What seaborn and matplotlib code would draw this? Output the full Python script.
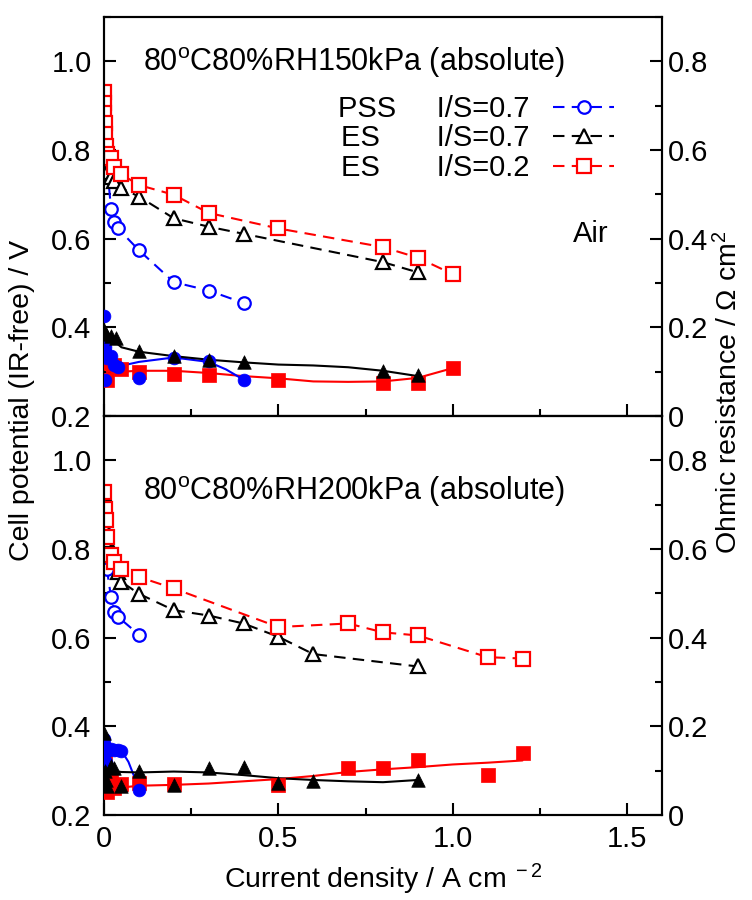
import numpy as np
import pandas as pd
import matplotlib
matplotlib.use("Agg")
import matplotlib.pyplot as plt
import seaborn as sns
from matplotlib.ticker import MultipleLocator, FuncFormatter

# ---------------- data: 80C 80%RH 150 kPa (top panel) ----------------
# IR-free cell potential (V), open markers, dashed lines
t_pss_x = [0.002, 0.005, 0.01, 0.02, 0.03, 0.04, 0.1, 0.2, 0.3, 0.4]
t_pss_v = [0.80, 0.78, 0.755, 0.668, 0.638, 0.623, 0.574, 0.502, 0.483, 0.455]
t_es7_x = [0.002, 0.005, 0.01, 0.02, 0.03, 0.05, 0.1, 0.2, 0.3, 0.4, 0.8, 0.9]
t_es7_v = [0.80, 0.77, 0.75, 0.74, 0.73, 0.714, 0.695, 0.646, 0.627, 0.611, 0.547, 0.524]
t_es2_x = [0.0, 0.0005, 0.001, 0.002, 0.003, 0.005, 0.01, 0.02, 0.03, 0.05, 0.1, 0.2, 0.3, 0.5, 0.8, 0.9, 1.0]
t_es2_v = [0.93, 0.907, 0.884, 0.861, 0.835, 0.808, 0.79, 0.783, 0.761, 0.745, 0.721, 0.699, 0.658, 0.623, 0.581, 0.557, 0.520]
# ohmic resistance (ohm cm2), filled markers
t_pss_rx = [0.0, 0.001, 0.002, 0.003, 0.005, 0.01, 0.02, 0.03, 0.04, 0.1, 0.2, 0.3, 0.4]
t_pss_r = [0.225, 0.17, 0.155, 0.082, 0.14, 0.13, 0.135, 0.116, 0.11, 0.086, 0.131, 0.124, 0.082]
t_es7_rx = [0.0, 0.005, 0.02, 0.035, 0.1, 0.2, 0.3, 0.4, 0.8, 0.9]
t_es7_r = [0.195, 0.185, 0.18, 0.177, 0.146, 0.135, 0.127, 0.121, 0.101, 0.093]
t_es2_rx = [0.0, 0.005, 0.01, 0.03, 0.05, 0.1, 0.2, 0.3, 0.5, 0.8, 0.9, 1.0]
t_es2_r = [0.135, 0.12, 0.082, 0.116, 0.105, 0.10, 0.095, 0.092, 0.082, 0.075, 0.075, 0.108]
# fitted resistance curves (solid lines)
t_pss_fx = [0.0, 0.01, 0.03, 0.06, 0.1, 0.2, 0.3, 0.35, 0.4]
t_pss_f = [0.16, 0.13, 0.115, 0.115, 0.122, 0.132, 0.122, 0.105, 0.082]
t_es7_fx = [0.0, 0.02, 0.05, 0.1, 0.2, 0.3, 0.4, 0.5, 0.6, 0.7, 0.8, 0.9]
t_es7_f = [0.20, 0.175, 0.155, 0.145, 0.135, 0.127, 0.121, 0.116, 0.114, 0.11, 0.102, 0.09]
t_es2_fx = [0.0, 0.01, 0.05, 0.1, 0.2, 0.3, 0.4, 0.5, 0.6, 0.7, 0.8, 0.9, 1.0]
t_es2_f = [0.13, 0.095, 0.10, 0.102, 0.102, 0.097, 0.09, 0.085, 0.078, 0.077, 0.078, 0.086, 0.108]

# ---------------- data: 80C 80%RH 200 kPa (bottom panel) ----------------
b_pss_x = [0.0, 0.001, 0.002, 0.003, 0.005, 0.008, 0.02, 0.03, 0.04, 0.1]
b_pss_v = [0.883, 0.838, 0.816, 0.793, 0.775, 0.756, 0.692, 0.658, 0.647, 0.607]
b_es7_x = [0.0, 0.002, 0.005, 0.01, 0.02, 0.04, 0.05, 0.1, 0.2, 0.3, 0.4, 0.5, 0.6, 0.9]
b_es7_v = [0.925, 0.872, 0.842, 0.82, 0.793, 0.748, 0.726, 0.699, 0.662, 0.65, 0.632, 0.602, 0.563, 0.535]
b_es2_x = [0.0, 0.002, 0.005, 0.01, 0.02, 0.03, 0.05, 0.1, 0.2, 0.5, 0.7, 0.8, 0.9, 1.1, 1.2]
b_es2_v = [0.929, 0.89, 0.865, 0.827, 0.786, 0.771, 0.756, 0.737, 0.711, 0.624, 0.632, 0.612, 0.605, 0.556, 0.553]
b_pss_rx = [0.0, 0.002, 0.005, 0.01, 0.02, 0.03, 0.04, 0.05, 0.1]
b_pss_r = [0.172, 0.155, 0.12, 0.145, 0.15, 0.147, 0.146, 0.145, 0.056]
b_es7_rx = [0.0, 0.002, 0.005, 0.01, 0.02, 0.03, 0.05, 0.1, 0.2, 0.3, 0.4, 0.5, 0.6, 0.9]
b_es7_r = [0.185, 0.10, 0.08, 0.065, 0.11, 0.105, 0.065, 0.10, 0.068, 0.105, 0.108, 0.072, 0.077, 0.08]
b_es2_rx = [0.0, 0.002, 0.005, 0.01, 0.02, 0.03, 0.05, 0.1, 0.2, 0.5, 0.7, 0.8, 0.9, 1.1, 1.2]
b_es2_r = [0.142, 0.12, 0.056, 0.052, 0.078, 0.06, 0.07, 0.072, 0.07, 0.067, 0.105, 0.105, 0.124, 0.09, 0.139]
b_pss_fx = [0.0, 0.01, 0.03, 0.05, 0.07, 0.09, 0.1]
b_pss_f = [0.17, 0.15, 0.147, 0.145, 0.12, 0.08, 0.056]
b_es7_fx = [0.0, 0.02, 0.05, 0.1, 0.2, 0.3, 0.4, 0.5, 0.6, 0.7, 0.8, 0.9]
b_es7_f = [0.13, 0.10, 0.097, 0.096, 0.098, 0.096, 0.09, 0.083, 0.079, 0.076, 0.074, 0.079]
b_es2_fx = [0.0, 0.01, 0.05, 0.1, 0.2, 0.3, 0.4, 0.5, 0.6, 0.7, 0.8, 0.9, 1.0, 1.1, 1.2]
b_es2_f = [0.13, 0.06, 0.062, 0.066, 0.068, 0.071, 0.076, 0.081, 0.088, 0.097, 0.103, 0.108, 0.114, 0.118, 0.123]

labels = ["PSS     I/S=0.7", "ES       I/S=0.7", "ES       I/S=0.2"]
titles = ["80$^{\\rm o}$C80%RH150kPa (absolute)", "80$^{\\rm o}$C80%RH200kPa (absolute)"]

# ---------------- style ----------------
sns.set_theme(style="ticks")
plt.rcParams["font.family"] = ["Liberation Sans", "DejaVu Sans"]
plt.rcParams["mathtext.fontset"] = "custom"
plt.rcParams["mathtext.rm"] = "Liberation Sans"
plt.rcParams["mathtext.it"] = "Liberation Sans:italic"
plt.rcParams["mathtext.bf"] = "Liberation Sans:bold"
plt.rcParams["axes.linewidth"] = 1.5
for key in ["text.color", "axes.labelcolor", "xtick.color", "ytick.color", "axes.edgecolor"]:
    plt.rcParams[key] = "black"

BLUE, BLACK, RED = "#0000FF", "#000000", "#FF0000"
colors = [BLUE, BLACK, RED]
markers = ["o", "^", "s"]
msizes = [9, 10, 10]
TICK_FS = 21
DASH = (0, (5.5, 3.5))

fig = plt.figure(figsize=(7.52, 9.0), dpi=100)
gs = fig.add_gridspec(2, 1, left=104/752, right=662/752, bottom=1-815/900, top=1-17/900, hspace=0)
ax_top = fig.add_subplot(gs[0])
ax_bot = fig.add_subplot(gs[1], sharex=ax_top)

panels = [
    (ax_top,
     [(t_pss_x, t_pss_v), (t_es7_x, t_es7_v), (t_es2_x, t_es2_v)],
     [(t_pss_rx, t_pss_r), (t_es7_rx, t_es7_r), (t_es2_rx, t_es2_r)],
     [(t_pss_fx, t_pss_f), (t_es7_fx, t_es7_f), (t_es2_fx, t_es2_f)]),
    (ax_bot,
     [(b_pss_x, b_pss_v), (b_es7_x, b_es7_v), (b_es2_x, b_es2_v)],
     [(b_pss_rx, b_pss_r), (b_es7_rx, b_es7_r), (b_es2_rx, b_es2_r)],
     [(b_pss_fx, b_pss_f), (b_es7_fx, b_es7_f), (b_es2_fx, b_es2_f)]),
]

fmt_x = FuncFormatter(lambda v, p: "0" if abs(v) < 1e-9 else f"{v:.1f}")
fmt_r = FuncFormatter(lambda v, p: "0" if abs(v) < 1e-9 else f"{v:.1f}")

for i, (ax, opens, filled, fits) in enumerate(panels):
    ax2 = ax.twinx()
    for k in range(3):
        xo, yo = opens[k]
        sns.lineplot(x=xo, y=yo, ax=ax, color=colors[k], linestyle=DASH, linewidth=1.5,
                     marker=markers[k], markersize=msizes[k], markerfacecolor="white",
                     markeredgecolor=colors[k], markeredgewidth=1.6,
                     estimator=None, sort=False, label=labels[k] if i == 0 else None, legend=False)
    for k in [2, 0, 1]:
        xf, yf = fits[k]
        sns.lineplot(x=xf, y=yf, ax=ax2, color=colors[k], linewidth=1.5,
                     estimator=None, sort=False, legend=False)
        xr, yr = filled[k]
        sns.scatterplot(x=xr, y=yr, ax=ax2, color=colors[k], marker=markers[k],
                        s=95 if k else 85, edgecolor=colors[k], linewidth=0.5, legend=False, zorder=3)

    ax.set_xlim(0, 1.6)
    ax.set_ylim(0.2, 1.1)
    ax2.set_ylim(0.0, 0.9)
    ax.yaxis.set_major_locator(MultipleLocator(0.2))
    ax.yaxis.set_minor_locator(MultipleLocator(0.1))
    ax2.yaxis.set_major_locator(MultipleLocator(0.2))
    ax2.yaxis.set_minor_locator(MultipleLocator(0.1))
    ax2.yaxis.set_major_formatter(fmt_r)
    ax.xaxis.set_major_locator(MultipleLocator(0.5))
    ax.xaxis.set_minor_locator(MultipleLocator(0.25))
    ax.xaxis.set_major_formatter(fmt_x)
    ax.yaxis.set_major_formatter(FuncFormatter(lambda v, p: f"{v:.1f}"))
    for a in (ax, ax2):
        a.tick_params(which="major", direction="in", length=8.5, width=1.5, labelsize=TICK_FS, colors="black")
        a.tick_params(which="minor", direction="in", length=5, width=1.5, colors="black")
        for s in a.spines.values():
            s.set_linewidth(1.5)
            s.set_color("black")
    ax.tick_params(axis="y", which="major", pad=9)
    ax2.tick_params(axis="y", which="major", pad=4)
    ax.tick_params(axis="x", which="major", pad=7)
    ax.tick_params(axis="x", which="both", top=False)
    ax.set_xlabel("")
    ax.set_ylabel("")
    ax2.set_ylabel("")
    ax.text(0.07, 0.885 if i == 0 else 0.81, titles[i], transform=ax.transAxes,
            fontsize=22, ha="left", va="center")

plt.setp(ax_top.get_xticklabels(), visible=False)

# legend on top panel
h, l = ax_top.get_legend_handles_labels()
ax_top.legend(h, l, loc="upper left", bbox_to_anchor=(0.42, 0.805), frameon=False,
              markerfirst=False, fontsize=21, handlelength=2.1, handletextpad=0.8,
              labelspacing=0.05, borderpad=0, borderaxespad=0)
ax_top.text(0.905, 0.455, "Air", transform=ax_top.transAxes, fontsize=21, ha="right", va="center")

fig.text(0.5 * (104 + 662) / 752, 1 - 879 / 900, "Current density / A cm$^{\\ -2}$",
         ha="center", va="center", fontsize=20.5)
fig.text(22 / 752, 1 - 400 / 900, "Cell potential (IR-free) / V", rotation=90,
         ha="center", va="center", fontsize=20.5)
fig.text(729 / 752, 1 - 392 / 900, "Ohmic resistance / \u03a9 cm$^{2}$", rotation=90,
         ha="center", va="center", fontsize=20.5)

fig.savefig("out.png", dpi=100)
